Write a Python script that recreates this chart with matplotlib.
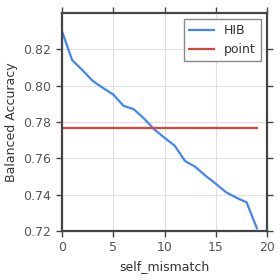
import matplotlib
matplotlib.use("Agg")
import matplotlib.pyplot as plt

x = list(range(20))
hib = [0.8301, 0.8140, 0.8085, 0.8026, 0.7987, 0.7951, 0.7889, 0.7870, 0.7819, 0.7759,
       0.7713, 0.7669, 0.7585, 0.7553, 0.7504, 0.7460, 0.7413, 0.7383, 0.7358, 0.7215]
point = [0.7768] * 20

fig = plt.figure(figsize=(2.8, 2.8), dpi=100)
ax = fig.add_axes([0.221, 0.175, 0.733, 0.779])
ax.plot(x, hib, color="#4285F4", lw=1.6, label="HIB")
ax.plot(x, point, color="#DB4437", lw=1.6, label="point")
ax.set_xlim(0, 20)
ax.set_ylim(0.72, 0.84)
ax.set_xticks([0, 5, 10, 15, 20])
ax.set_yticks([0.72, 0.74, 0.76, 0.78, 0.80, 0.82])
ax.grid(True, color="#e0e0e0", lw=0.8)
ax.set_axisbelow(True)
for s in ax.spines.values():
    s.set_color("#444444")
    s.set_linewidth(1.6)
ax.tick_params(direction="out", top=True, right=True, length=4, width=1,
               color="#444444", labelcolor="#555555", labelsize=9)
ax.set_xlabel("self_mismatch", fontsize=9, color="#333333")
ax.set_ylabel("Balanced Accuracy", fontsize=9, color="#333333")
leg = ax.legend(loc="upper right", fontsize=9, fancybox=False, framealpha=1)
leg.get_frame().set_edgecolor("#888888")
for t in leg.get_texts():
    t.set_color("#333333")
fig.savefig("out.png", dpi=100)
